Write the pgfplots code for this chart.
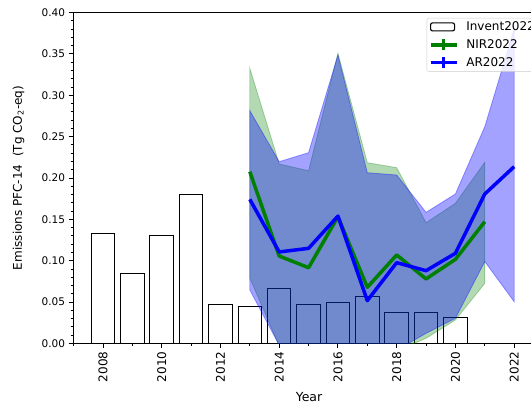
\documentclass[border=0pt]{standalone}
\usepackage{pgfplots}
\pgfplotsset{compat=1.18}
\usepackage{fontspec}
\setmainfont{DejaVu Sans}
\definecolor{mplgreen}{HTML}{008000}
\definecolor{mplblue}{HTML}{0000FF}
\begin{document}
\begin{tikzpicture}[x=1pt,y=1pt]
\path[use as bounding box] (0,0) rectangle (531,404);
\begin{axis}[
  at={(73pt,60.5pt)}, anchor=south west,
  scale only axis, width=472pt, height=331pt,
  xmin=2006.98, xmax=2023.05, ymin=0, ymax=0.4,
  /pgf/number format/assume math mode=true,
  axis line style={line width=0.9pt},
  every tick/.style={black, line width=0.9pt},
  tick align=outside, tick pos=left,
  major tick length=4.5pt, minor tick length=2.5pt,
  xtick={2008,2010,2012,2014,2016,2018,2020,2022},
  minor xtick={2007,2009,2011,2013,2015,2017,2019,2021},
  ytick={0,0.05,0.10,0.15,0.20,0.25,0.30,0.35,0.40},
  minor y tick num=4,
  x tick label style={rotate=90, anchor=east, font=\fontsize{12}{14}\selectfont, /pgf/number format/1000 sep={}},
  y tick label style={font=\fontsize{10.5}{12}\selectfont, /pgf/number format/.cd, fixed, fixed zerofill, precision=2, /tikz/.cd},
  xlabel={Year},
  xlabel style={at={(axis description cs:0.5,-0.1616)}, anchor=center, font=\fontsize{12.5}{15}\selectfont},
  ylabel={Emissions PFC-14\ \ (Tg CO\textsubscript{2}-eq)},
  ylabel style={at={(axis description cs:-0.1155,0.5)}, anchor=center, font=\fontsize{12}{14}\selectfont},
  legend style={at={(axis description cs:1,1)}, anchor=north east, xshift=-7pt, yshift=-5.5pt,
    draw=black!20, fill=white, fill opacity=0.8, draw opacity=1, text opacity=1,
    rounded corners=2pt, font=\fontsize{12}{14}\selectfont,
    inner xsep=1pt, inner ysep=1.5pt, row sep=3.5pt, cells={anchor=west}},
]
% Invent2022 bars
\addplot[ybar, bar width=0.8, fill=white, draw=black, line width=1pt,
  legend image code/.code={\path (-1pt,0pt) (32pt,0pt); \draw[black, fill=white, line width=1.1pt] (0pt,-4pt) rectangle (24pt,4pt);}]
  coordinates {
  (2008,0.133) (2009,0.0844) (2010,0.130) (2011,0.1795) (2012,0.0477) (2013,0.0453)
  (2014,0.067) (2015,0.0473) (2016,0.0497) (2017,0.057) (2018,0.0372) (2019,0.0372) (2020,0.032)
  };
\addlegendentry{Invent2022}
% NIR2022 band
\addplot[forget plot, fill=mplgreen, draw=mplgreen, opacity=0.3, line width=0.8pt] coordinates {
  (2013,0.3326) (2014,0.2169) (2015,0.2088) (2016,0.3507) (2017,0.2185) (2018,0.2125) (2019,0.146) (2020,0.1694) (2021,0.219)
  (2021,0.0727) (2020,0.0284) (2019,0.0063) (2018,-0.009) (2017,-0.05) (2016,-0.06) (2015,-0.04) (2014,-0.003) (2013,0.079)
  } -- cycle;
% AR2022 band
\addplot[forget plot, fill=mplblue, draw=mplblue, opacity=0.36, line width=0.8pt] coordinates {
  (2013,0.2814) (2014,0.2197) (2015,0.2306) (2016,0.3486) (2017,0.2064) (2018,0.2036) (2019,0.1585) (2020,0.1807) (2021,0.262) (2022,0.38)
  (2022,0.0505) (2021,0.099) (2020,0.0305) (2019,0.0123) (2018,-0.008) (2017,-0.05) (2016,-0.06) (2015,-0.04) (2014,-0.002) (2013,0.0647)
  } -- cycle;
% NIR2022 line
\addplot[mplgreen, line width=3.5pt, line join=round,
  legend image code/.code={\path (-1pt,0pt) (32pt,0pt); \draw[mplgreen, line width=3.5pt] (0pt,0pt) -- (26pt,0pt); \draw[mplgreen, line width=2.5pt] (13pt,-5.5pt) -- (13pt,5.5pt);}]
  coordinates {
  (2013,0.2076) (2014,0.1057) (2015,0.0916) (2016,0.1532) (2017,0.0679) (2018,0.107) (2019,0.078) (2020,0.1017) (2021,0.1472)
  };
\addlegendentry{NIR2022}
% AR2022 line
\addplot[mplblue, line width=3.5pt, line join=round,
  legend image code/.code={\path (-1pt,0pt) (32pt,0pt); \draw[mplblue, line width=3.5pt] (0pt,0pt) -- (26pt,0pt); \draw[mplblue, line width=2.5pt] (13pt,-5.5pt) -- (13pt,5.5pt);}]
  coordinates {
  (2013,0.1742) (2014,0.1106) (2015,0.115) (2016,0.154) (2017,0.0518) (2018,0.0977) (2019,0.088) (2020,0.109) (2021,0.1807) (2022,0.2137)
  };
\addlegendentry{AR2022}
\end{axis}
\end{tikzpicture}
\end{document}
